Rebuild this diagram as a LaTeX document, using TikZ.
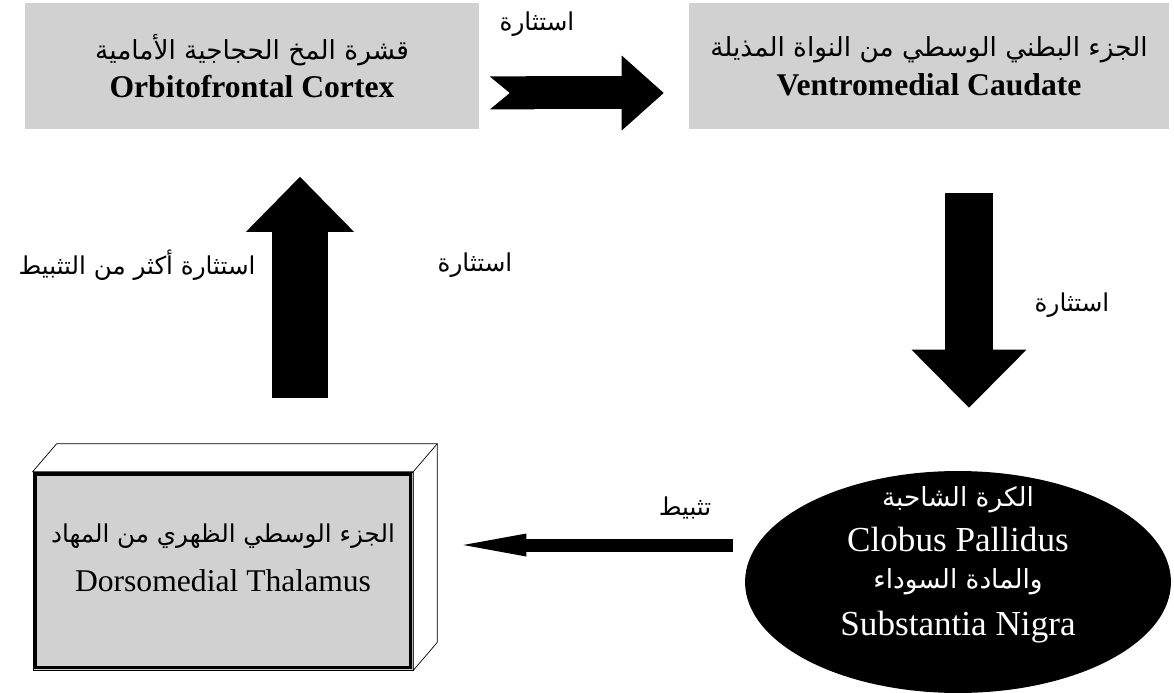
\documentclass[tikz,border=0pt]{standalone}
\usepackage{fontspec}
\setmainfont{Liberation Serif}
\newfontfamily\arabicfont[Script=Arabic]{DejaVu Sans}
\TeXXeTstate=1
\usetikzlibrary{arrows.meta,shapes.geometric,calc}
\newcommand{\arab}[1]{{\arabicfont\mdseries\beginR #1\endR}}

\begin{document}
\begin{tikzpicture}[x=0.02cm, y=-0.02cm,
    region/.style={fill=black!18, minimum height=2.54cm, align=center,
        font=\fontsize{18}{22}\selectfont\bfseries},
    lbl/.style={font=\fontsize{14}{17}\selectfont}]
    \useasboundingbox (0,0) rectangle (1174,693);

    % Top row: cortex and caudate
    \node[region, minimum width=9.1cm] (ofc) at (252,66)
        {{\fontsize{15}{20}\selectfont\arab{قشرة المخ الحجاجية الأمامية}}\\Orbitofrontal Cortex};
    \node[region, minimum width=9.6cm] (vmc) at (929,66)
        {{\fontsize{15}{20}\selectfont\arab{الجزء البطني الوسطي من النواة المذيلة}}\\Ventromedial Caudate};

    % Bottom right: the dark ellipse
    \node[ellipse, fill=black, minimum width=8.52cm, minimum height=4.44cm, inner sep=0pt] (gp) at (958,582) {};
    \node[text=white, align=center, font=\fontsize{20}{21}\selectfont] (gptext) at ([yshift=0.34cm]gp.center)
        {{\fontsize{15}{21}\selectfont\arab{الكرة الشاحبة}}\\[4.6pt] Clobus Pallidus\\
         {\fontsize{15}{21}\selectfont\arab{والمادة السوداء}}\\[6pt] Substantia Nigra};

    % Bottom left: the thalamus block
    \node[draw, fill=black!18, minimum width=7.6cm, minimum height=3.96cm] (thal) at (223,571) {};
    \draw[fill=white] (thal.north west) -- ++(24,-28) -- ($(thal.north east)+(24,-28)$)
        -- ($(thal.south east)+(24,-28)$) -- (thal.south east) -- (thal.north east) -- cycle;
    \draw (thal.north east) -- ++(24,-28);
    \draw[line width=1.6pt] ($(thal.south west)+(3,-3)$) rectangle ($(thal.north east)+(-3,3)$);
    \node[align=center, font=\fontsize{18}{28}\selectfont] (thaltext) at ([yshift=0.27cm]thal.center)
        {{\fontsize{14}{28}\selectfont\arab{الجزء الوسطي الظهري من المهاد}}\\Dorsomedial Thalamus};

    % Block arrows
    \draw[line width=0.66cm, {Triangle Cap[reversed, length=0.4cm, line width=0pt]}-{Triangle[length=0.84cm, width=1.5cm, line width=0pt]},
        shorten <=0.2cm, shorten >=0.5cm] ([yshift=-0.54cm]ofc.east) -- ([yshift=-0.54cm]vmc.west);
    \draw[line width=0.96cm, -{Triangle[length=1.16cm, width=2.3cm, line width=0pt]},
        shorten <=1.26cm, shorten >=1.26cm] ([xshift=0.8cm]vmc.south) -- ([xshift=0.8cm]vmc.south |- gp.north);
    \draw[line width=1.12cm, -{Triangle[length=1.1cm, width=2.16cm, line width=0pt]},
        shorten <=1.48cm, shorten >=0.94cm] ([xshift=1.54cm]thal.north) -- ([xshift=1.54cm]thal.north |- ofc.south);
    \draw[line width=0.26cm, -{Triangle[length=1.26cm, width=0.46cm, line width=0pt]},
        shorten <=0.24cm, shorten >=1cm] ([yshift=0.74cm]gp.west) -- ([yshift=0.74cm]gp.west -| thal.east);

    % Arrow labels
    \node[lbl] (exc1) at (537,24) {\arab{استثارة}};
    \node[lbl] (exc2) at (1072,305) {\arab{استثارة}};
    \node[lbl] (exc3) at (475,265) {\arab{استثارة}};
    \node[lbl] (exc4) at (137,265) {\arab{استثارة أكثر من التثبيط}};
    \node[lbl] (inh) at (685,508) {\arab{تثبيط}};
\end{tikzpicture}
\end{document}
